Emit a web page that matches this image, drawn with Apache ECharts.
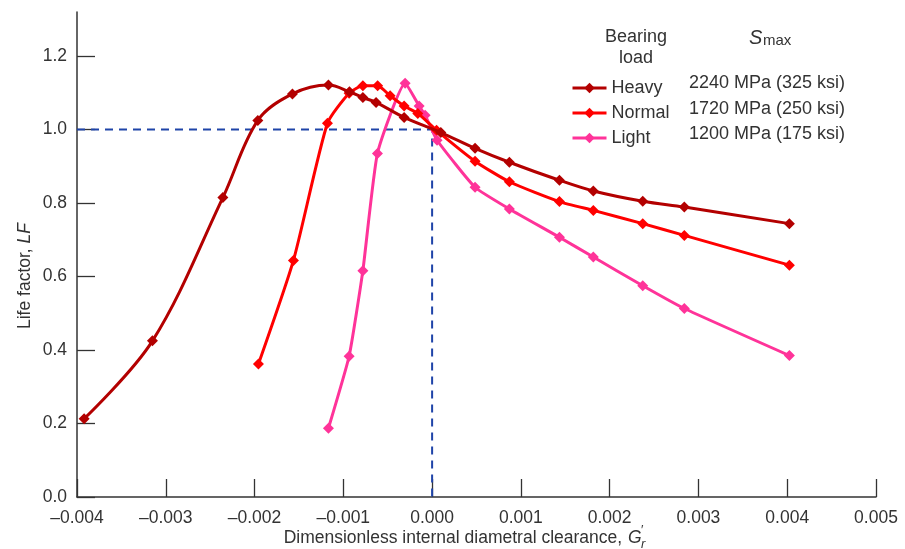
<!DOCTYPE html>
<html>
<head>
<meta charset="utf-8">
<script src="https://cdn.jsdelivr.net/npm/echarts@6/dist/echarts.min.js"></script>
<style>html,body{margin:0;padding:0;background:#fff}#c{width:905px;height:549px}</style>
</head>
<body>
<div id="c"></div>
<script>
// Dimensionless internal diametral clearance (x) and life factor (y)
var heavyX = [-0.00392, -0.00315, -0.002357, -0.001963, -0.001573, -0.001168, -0.000931, -0.00078, -0.000631, -0.000315, 0.000098, 0.000484, 0.00087, 0.001434, 0.001816, 0.002373, 0.002841, 0.004024];
var heavyY = [0.213, 0.425, 0.815, 1.025, 1.097, 1.121, 1.103, 1.087, 1.074, 1.033, 0.992, 0.949, 0.911, 0.862, 0.833, 0.805, 0.789, 0.744];
var normalX = [-0.001956, -0.001562, -0.001179, -0.000935, -0.00078, -0.000614, -0.000473, -0.000315, -0.000161, 0.00005, 0.000484, 0.00087, 0.001434, 0.001816, 0.002373, 0.002841, 0.004024];
var normalY = [0.362, 0.644, 1.017, 1.099, 1.119, 1.119, 1.092, 1.064, 1.044, 0.998, 0.914, 0.858, 0.804, 0.780, 0.744, 0.712, 0.631];
var lightX = [-0.001168, -0.000935, -0.00078, -0.000616, -0.000304, -0.000146, -0.000079, 0.000056, 0.000484, 0.00087, 0.001434, 0.001816, 0.002373, 0.002841, 0.004024];
var lightY = [0.187, 0.383, 0.616, 0.935, 1.126, 1.064, 1.039, 0.971, 0.843, 0.784, 0.707, 0.653, 0.575, 0.513, 0.385];
var refX = [-0.004, 0, 0];
var refY = [1.0, 1.0, 0];
var loadNames = ['Heavy', 'Normal', 'Light'];
var smaxLabels = ['2240 MPa (325 ksi)', '1720 MPa (250 ksi)', '1200 MPa (175 ksi)'];
var yTicks = [0, 0.2, 0.4, 0.6, 0.8, 1.0, 1.2];

function pairs(xs, ys) { return xs.map(function (x, i) { return [x, ys[i]]; }); }

var FONT = 'Liberation Sans, Arial, sans-serif';
var TXT = '#333333';
var colors = ['#b30000', '#ff0000', '#ff3399'];
var AX = 17.5, LG = 18;

var chart = echarts.init(document.getElementById('c'), null, { renderer: 'canvas' });

var option = {
  animation: false,
  backgroundColor: '#ffffff',
  textStyle: { fontFamily: FONT },
  grid: { left: 77, right: 29, top: 12, bottom: 52, containLabel: false, outerBoundsMode: 'none' },
  xAxis: {
    type: 'value', min: -0.004, max: 0.005, interval: 0.001,
    axisLine: { show: true, onZero: false, lineStyle: { color: TXT, width: 1.5 } },
    axisTick: { show: true, inside: true, length: 18, lineStyle: { color: TXT, width: 1.3 } },
    axisLabel: {
      color: TXT, fontSize: AX, fontFamily: FONT, margin: 12,
      formatter: function (v) { var s = Math.abs(v).toFixed(3); return (v < -1e-9 ? '\u2013' : '') + s; }
    },
    splitLine: { show: false }
  },
  yAxis: {
    type: 'value', min: 0, max: 1.32,
    axisLine: { show: true, onZero: false, lineStyle: { color: TXT, width: 1.5 } },
    axisTick: { show: true, inside: true, length: 18, customValues: yTicks, lineStyle: { color: TXT, width: 1.3 } },
    axisLabel: {
      color: TXT, fontSize: AX, fontFamily: FONT, margin: 10, customValues: yTicks,
      formatter: function (v) { return v.toFixed(1); }
    },
    splitLine: { show: false }
  },
  legend: {
    orient: 'vertical', left: 566, top: 73,
    itemWidth: 34, itemHeight: 13, itemGap: 5,
    lineStyle: { width: 3 },
    textStyle: { color: TXT, fontSize: LG, fontFamily: FONT, lineHeight: 20 },
    data: loadNames
  },
  series: [
    {
      name: 'ref', type: 'line', data: pairs(refX, refY), symbol: 'none', silent: true,
      lineStyle: { color: '#1f44a8', width: 2, type: [8, 6] }, z: 1
    },
    {
      name: loadNames[2], type: 'line', data: pairs(lightX, lightY), smooth: 0.15,
      symbol: 'diamond', symbolSize: 11, color: colors[2],
      lineStyle: { width: 3, color: colors[2] }, itemStyle: { color: colors[2] }, z: 2
    },
    {
      name: loadNames[1], type: 'line', data: pairs(normalX, normalY), smooth: 0.2,
      symbol: 'diamond', symbolSize: 11, color: colors[1],
      lineStyle: { width: 3, color: colors[1] }, itemStyle: { color: colors[1] }, z: 3
    },
    {
      name: loadNames[0], type: 'line', data: pairs(heavyX, heavyY), smooth: 0.35,
      symbol: 'diamond', symbolSize: 11, color: colors[0],
      lineStyle: { width: 3, color: colors[0] }, itemStyle: { color: colors[0] }, z: 4
    }
  ],
  graphic: [
    { type: 'text', x: 636, y: 37, style: { text: 'Bearing', fill: TXT, font: LG + 'px ' + FONT, textAlign: 'center', textVerticalAlign: 'middle' } },
    { type: 'text', x: 636, y: 58, style: { text: 'load', fill: TXT, font: LG + 'px ' + FONT, textAlign: 'center', textVerticalAlign: 'middle' } },
    { type: 'text', x: 749, y: 38, style: { text: 'S', fill: TXT, font: 'italic 20px ' + FONT, textAlign: 'left', textVerticalAlign: 'middle' } },
    { type: 'text', x: 763, y: 41, style: { text: 'max', fill: TXT, font: '15px ' + FONT, textAlign: 'left', textVerticalAlign: 'middle' } },
    { type: 'text', x: 689, y: 83, style: { text: smaxLabels[0], fill: TXT, font: LG + 'px ' + FONT, textAlign: 'left', textVerticalAlign: 'middle' } },
    { type: 'text', x: 689, y: 109, style: { text: smaxLabels[1], fill: TXT, font: LG + 'px ' + FONT, textAlign: 'left', textVerticalAlign: 'middle' } },
    { type: 'text', x: 689, y: 134, style: { text: smaxLabels[2], fill: TXT, font: LG + 'px ' + FONT, textAlign: 'left', textVerticalAlign: 'middle' } },
    // x axis title
    { type: 'text', x: 627, y: 538, style: { text: 'Dimensionless internal diametral clearance, ', fill: TXT, font: AX + 'px ' + FONT, textAlign: 'right', textVerticalAlign: 'middle' } },
    { type: 'text', x: 628, y: 538, style: { text: 'G', fill: TXT, font: 'italic ' + AX + 'px ' + FONT, textAlign: 'left', textVerticalAlign: 'middle' } },
    { type: 'text', x: 641, y: 530, style: { text: '\u2032', fill: TXT, font: '13px ' + FONT, textAlign: 'left', textVerticalAlign: 'middle' } },
    { type: 'text', x: 641, y: 544, style: { text: 'r', fill: TXT, font: 'italic 13px ' + FONT, textAlign: 'left', textVerticalAlign: 'middle' } },
    // y axis title
    { type: 'text', x: 25, y: 276, rotation: Math.PI / 2, style: { text: '{n|Life factor, }{i|LF}', fill: TXT, textAlign: 'center', textVerticalAlign: 'middle',
      rich: { n: { fontSize: AX, fontFamily: FONT, fill: TXT }, i: { fontSize: AX, fontFamily: FONT, fontStyle: 'italic', fill: TXT } } } }
  ]
};
chart.setOption(option);
</script>
</body>
</html>
